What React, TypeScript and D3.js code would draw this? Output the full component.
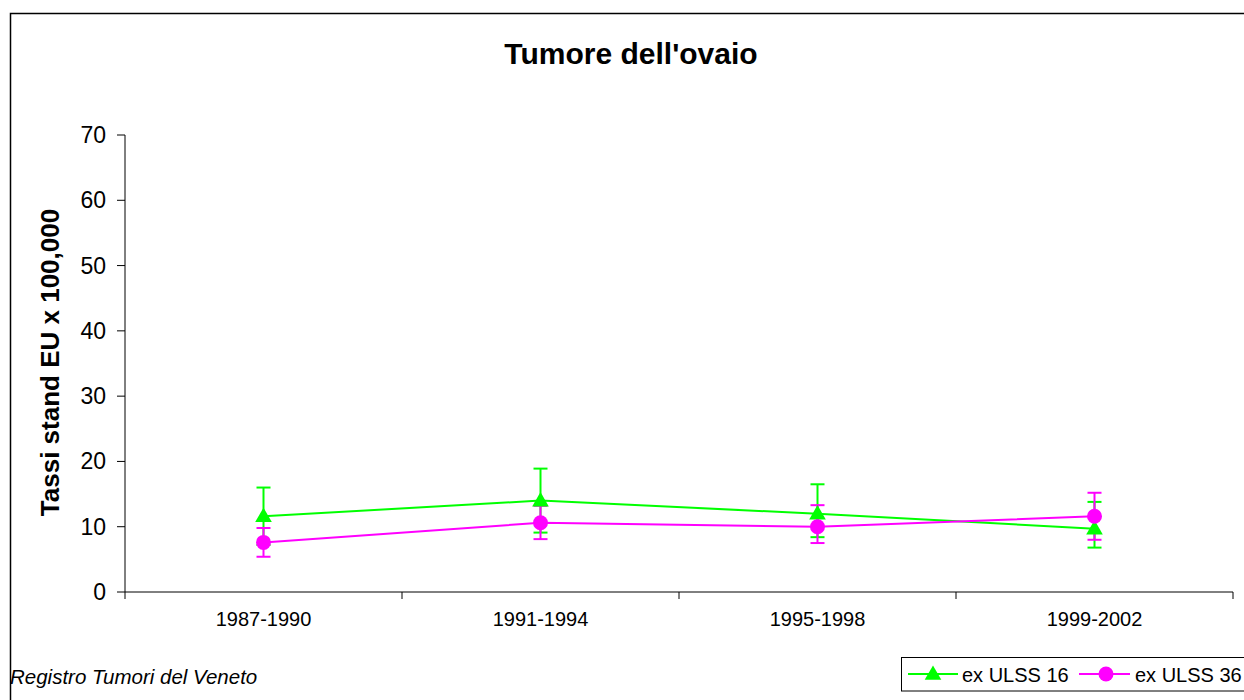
import React from "react";
import * as d3 from "d3";

const categories = ["1987-1990", "1991-1994", "1995-1998", "1999-2002"];
const seriesNames = ["ex ULSS 16", "ex ULSS 36"];
const ulss16 = [11.6, 14.0, 12.0, 9.7];
const ulss16Upper = [16.0, 18.9, 16.5, 13.8];
const ulss16Lower = [7.2, 9.1, 8.4, 6.8];
const ulss36 = [7.6, 10.6, 10.0, 11.6];
const ulss36Upper = [9.8, 13.2, 13.3, 15.2];
const ulss36Lower = [5.4, 8.1, 7.5, 8.0];
const yTicks = [0, 10, 20, 30, 40, 50, 60, 70];

const W = 1244;
const H = 700;
const left = 125;
const right = 1233;
const top = 135;
const bottom = 592;
const GREEN = "#00FF00";
const MAGENTA = "#FF00FF";
const FONT = "'Liberation Sans', Arial, sans-serif";

export default function App() {
  const x = d3.scaleBand<string>().domain(categories).range([left, right]).padding(0);
  const y = d3.scaleLinear().domain([0, 70]).range([bottom, top]);
  const cx = (c: string) => (x(c) as number) + x.bandwidth() / 2;
  const line = d3
    .line<number>()
    .x((_, i) => cx(categories[i]))
    .y((d) => y(d));

  const series = [
    { name: seriesNames[0], v: ulss16, up: ulss16Upper, lo: ulss16Lower, color: GREEN, shape: "tri" },
    { name: seriesNames[1], v: ulss36, up: ulss36Upper, lo: ulss36Lower, color: MAGENTA, shape: "circ" },
  ];

  const tri = d3.symbol().type(d3.symbolTriangle).size(120);

  const marker = (shape: string, px: number, py: number, color: string, key: string) =>
    shape === "tri" ? (
      <path key={key} d={tri() as string} transform={`translate(${px},${py + 1})`} fill={color} />
    ) : (
      <circle key={key} cx={px} cy={py} r={7.5} fill={color} />
    );

  const capW = 7;

  return (
    <svg
      width={W}
      height={H}
      style={{ position: "absolute", left: 0, top: 0, background: "#fff" }}
      fontFamily={FONT}
    >
      <rect x={0} y={0} width={W} height={H} fill="#fff" />
      <rect x={10.5} y={13.5} width={1250} height={700} fill="none" stroke="#000" strokeWidth={1.5} />

      <text x={631} y={64} textAnchor="middle" fontSize={30} fontWeight="bold">
        Tumore dell'ovaio
      </text>

      {/* y axis */}
      <line x1={left} x2={left} y1={top} y2={bottom} stroke="#000" strokeWidth={1} />
      {yTicks.map((t) => (
        <g key={t}>
          <line x1={left - 8} x2={left} y1={y(t)} y2={y(t)} stroke="#000" strokeWidth={1} />
          <text x={left - 19} y={y(t) + 8} textAnchor="end" fontSize={23}>
            {t}
          </text>
        </g>
      ))}
      <text
        transform={`translate(59,${(top + bottom) / 2 - 1}) rotate(-90)`}
        textAnchor="middle"
        fontSize={26}
        fontWeight="bold"
      >
        Tassi stand EU x 100,000
      </text>

      {/* x axis */}
      <line x1={left} x2={right} y1={bottom} y2={bottom} stroke="#000" strokeWidth={1} />
      {categories.map((c, i) => (
        <g key={c}>
          <line
            x1={(x(c) as number) + x.bandwidth()}
            x2={(x(c) as number) + x.bandwidth()}
            y1={bottom}
            y2={bottom + 7}
            stroke="#000"
          />
          {i === 0 && <line x1={left} x2={left} y1={bottom} y2={bottom + 7} stroke="#000" />}
          <text x={cx(c)} y={626} textAnchor="middle" fontSize={20}>
            {c}
          </text>
        </g>
      ))}

      {/* error bars */}
      {series.map((s) =>
        categories.map((c, i) => (
          <g key={s.name + c} stroke={s.color} strokeWidth={2}>
            <line x1={cx(c)} x2={cx(c)} y1={y(s.lo[i])} y2={y(s.up[i])} />
            <line x1={cx(c) - capW} x2={cx(c) + capW} y1={y(s.up[i])} y2={y(s.up[i])} />
            <line x1={cx(c) - capW} x2={cx(c) + capW} y1={y(s.lo[i])} y2={y(s.lo[i])} />
          </g>
        ))
      )}

      {/* lines */}
      {series.map((s) => (
        <path key={s.name} d={line(s.v) as string} fill="none" stroke={s.color} strokeWidth={2} />
      ))}

      {/* markers */}
      {series.map((s) => categories.map((c, i) => marker(s.shape, cx(c), y(s.v[i]), s.color, s.name + c)))}

      {/* footer */}
      <text x={10} y={684} fontSize={20.5} fontStyle="italic">
        Registro Tumori del Veneto
      </text>

      {/* legend */}
      <rect x={901.5} y={657.5} width={360} height={33.5} fill="#fff" stroke="#000" strokeWidth={1} />
      <line x1={908} x2={958} y1={674} y2={674} stroke={GREEN} strokeWidth={2} />
      {marker("tri", 933, 674, GREEN, "lg1")}
      <text x={962} y={682} fontSize={20}>
        {seriesNames[0]}
      </text>
      <line x1={1079} x2={1130} y1={674} y2={674} stroke={MAGENTA} strokeWidth={2} />
      {marker("circ", 1106, 674, MAGENTA, "lg2")}
      <text x={1135} y={682} fontSize={20}>
        {seriesNames[1]}
      </text>
    </svg>
  );
}
